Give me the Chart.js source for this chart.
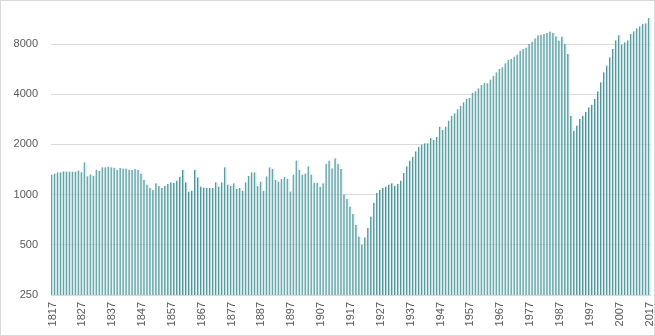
<!DOCTYPE html>
<html>
<head>
<meta charset="utf-8">
<script src="https://cdn.jsdelivr.net/npm/chart.js@4"></script>
<style>
  html, body { margin: 0; padding: 0; background: #fff; }
  #wrap { width: 655px; height: 336px; position: relative; }
</style>
</head>
<body>
<div id="wrap"><canvas id="chart" width="655" height="336"></canvas></div>
<script>
// categories: one bar per year
const firstYear = 1817;
const lastYear = 2017;
const years = [];
for (let y = firstYear; y <= lastYear; y++) years.push(String(y));

// values (log axis)
const values = [
  1320, 1340, 1360, 1360, 1380, 1375, 1375, 1375, 1375, 1395,
  1360, 1565, 1290, 1325, 1300, 1410, 1385, 1460, 1460, 1470,
  1460, 1450, 1405, 1450, 1435, 1435, 1410, 1405, 1425, 1405,
  1340, 1230, 1150, 1095, 1065, 1170, 1130, 1095, 1130, 1160,
  1185, 1175, 1215, 1280, 1410, 1185, 1045, 1055, 1410, 1270,
  1120, 1105, 1095, 1095, 1095, 1185, 1120, 1185, 1460, 1150,
  1130, 1170, 1080, 1095, 1055, 1185, 1300, 1360, 1360, 1130,
  1200, 1055, 1290, 1460, 1425, 1230, 1200, 1240, 1280, 1240,
  1045, 1320, 1600, 1410, 1320, 1340, 1480, 1320, 1175, 1175,
  1115, 1170, 1530, 1600, 1440, 1650, 1530, 1425, 1000, 940,
  850, 765, 660, 560, 500, 555, 630, 740, 895, 1025,
  1065, 1095, 1120, 1150, 1170, 1130, 1160, 1215, 1350, 1480,
  1600, 1690, 1820, 1940, 1995, 2030, 2030, 2185, 2125, 2225,
  2560, 2440, 2560, 2780, 2975, 3080, 3250, 3405, 3580, 3765,
  3815, 4090, 4165, 4345, 4550, 4675, 4655, 4900, 5160, 5420,
  5680, 5810, 6140, 6430, 6520, 6730, 6920, 7300, 7470, 7640,
  8000, 8300, 8680, 9050, 9100, 9190, 9320, 9500, 9320, 8910,
  8390, 8870, 8000, 6980, 2975, 2420, 2595, 2845, 2975, 3145,
  3340, 3465, 3750, 4165, 4720, 5420, 5940, 6670, 7470, 8440,
  9050, 7940, 8200, 8440, 9190, 9540, 9960, 10230, 10600, 10670,
  11450
];

// y axis tick labels
const yTicks = [250, 500, 1000, 2000, 4000, 8000];
const yMin = 250;
const yMax = 14300;

// thin grey frame round the whole picture, like the Excel chart border
const framePlugin = {
  id: 'frame',
  afterDraw(chart) {
    const ctx = chart.ctx;
    ctx.save();
    ctx.strokeStyle = '#d9d9d9';
    ctx.lineWidth = 1;
    ctx.strokeRect(0.5, 0.5, chart.width - 1, chart.height - 1);
    ctx.restore();
  }
};

const ctx = document.getElementById('chart').getContext('2d');
new Chart(ctx, {
  type: 'bar',
  data: {
    labels: years,
    datasets: [{
      data: values,
      backgroundColor: 'rgba(196, 238, 242, 0.5)',
      borderColor: '#588f92',
      borderWidth: { left: 1, right: 0, top: 0, bottom: 0 },
      borderSkipped: 'bottom',
      categoryPercentage: 1,
      barPercentage: 1
    }]
  },
  plugins: [framePlugin],
  options: {
    responsive: false,
    animation: false,
    layout: { padding: { top: 2, right: 4, bottom: 2, left: 0 } },
    plugins: {
      legend: { display: false },
      tooltip: { enabled: false }
    },
    scales: {
      x: {
        grid: { display: false, drawTicks: false },
        border: { display: false },
        ticks: {
          autoSkip: false,
          maxRotation: 90,
          minRotation: 90,
          padding: 7,
          color: '#595959',
          font: { family: 'Liberation Sans', size: 11 },
          callback: function (val, i) {
            return i % 10 === 0 ? years[i] : '';
          }
        },
        afterFit: scale => {
          scale.height = 39;
          scale.paddingLeft = 0;
          scale.paddingRight = 0;
        }
      },
      y: {
        type: 'logarithmic',
        min: yMin,
        max: yMax,
        afterBuildTicks: scale => {
          scale.ticks = yTicks.map(v => ({ value: v }));
        },
        afterFit: scale => {
          scale.width = 51;
          scale.paddingTop = 0;
          scale.paddingBottom = 0;
        },
        grid: { color: '#d9d9d9', drawTicks: false },
        border: { display: false },
        ticks: {
          padding: 13,
          color: '#595959',
          font: { family: 'Liberation Sans', size: 11 },
          callback: v => String(v)
        }
      }
    }
  }
});
</script>
</body>
</html>
